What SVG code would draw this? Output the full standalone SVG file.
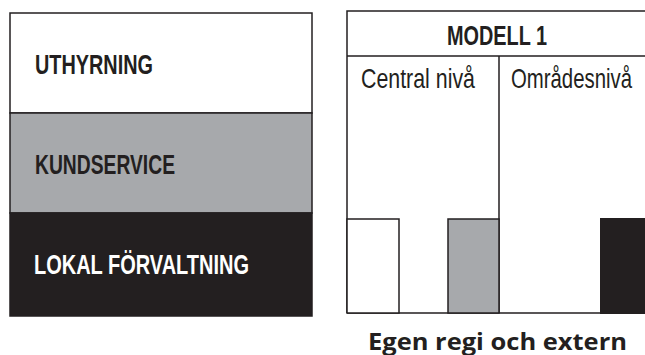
<svg xmlns="http://www.w3.org/2000/svg" width="645" height="355" viewBox="0 0 645 355">
  <style>
    .frame { stroke: #231f20; stroke-width: 1.5; }
    .band-label { font-family: "Liberation Sans", Arial, sans-serif; font-weight: bold; font-size: 28px; }
    .col-label { font-family: "Liberation Sans", Arial, sans-serif; font-size: 27.5px; fill: #231f20; }
    .caption { font-family: "Open Sans", "Liberation Sans", sans-serif; font-weight: bold; font-size: 24px; fill: #231f20; }
  </style>

  <!-- Left legend: three stacked responsibility bands -->
  <g id="uthyrning">
    <rect x="10" y="13" width="302" height="100" fill="#ffffff" class="frame"/>
    <text x="35" y="74" class="band-label" fill="#231f20" textLength="118" lengthAdjust="spacingAndGlyphs">UTHYRNING</text>
  </g>
  <g id="kundservice">
    <rect x="10" y="113" width="302" height="100" fill="#a7a9ac" class="frame"/>
    <text x="35" y="174" class="band-label" fill="#231f20" textLength="140" lengthAdjust="spacingAndGlyphs">KUNDSERVICE</text>
  </g>
  <g id="lokal-forvaltning">
    <rect x="10" y="213" width="302" height="103" fill="#231f20" class="frame"/>
    <text x="34" y="274" class="band-label" fill="#ffffff" textLength="215" lengthAdjust="spacingAndGlyphs">LOKAL FÖRVALTNING</text>
  </g>

  <!-- Right: model table -->
  <g id="modell-1">
    <path d="M347 313 V11 H646 M347 56 H646" fill="none" class="frame"/>
    <text x="447" y="45" class="band-label" fill="#231f20" textLength="100" lengthAdjust="spacingAndGlyphs">MODELL 1</text>
  </g>
  <g id="central-niva">
    <path d="M499 56 V313 M347 313 H646" fill="none" class="frame"/>
    <text x="361" y="88" class="col-label" textLength="114" lengthAdjust="spacingAndGlyphs">Central nivå</text>
  </g>
  <g id="omradesniva">
    <text x="511" y="88" class="col-label" textLength="121" lengthAdjust="spacingAndGlyphs">Områdesnivå</text>
  </g>

  <!-- Bars placing each band at its level -->
  <g id="bar-uthyrning">
    <rect x="347" y="219" width="52" height="94" fill="#ffffff" class="frame"/>
  </g>
  <g id="bar-kundservice">
    <rect x="448" y="219" width="51" height="94" fill="#a7a9ac" class="frame"/>
  </g>
  <g id="bar-lokal-forvaltning">
    <rect x="600" y="218" width="46" height="96" fill="#231f20"/>
  </g>

  <g id="connectors"/>

  <text x="368" y="350" class="caption" textLength="259" lengthAdjust="spacingAndGlyphs">Egen regi och extern</text>
</svg>
